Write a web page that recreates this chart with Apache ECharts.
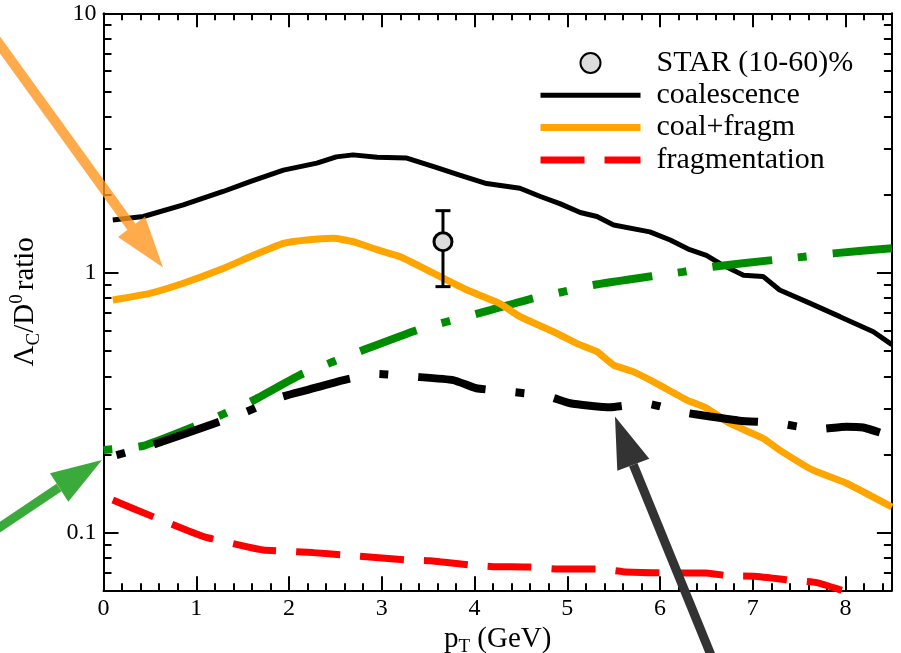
<!DOCTYPE html>
<html>
<head>
<meta charset="utf-8">
<script src="https://cdn.jsdelivr.net/npm/echarts@6/dist/echarts.min.js"></script>
<style>
  html, body { margin: 0; padding: 0; background: #ffffff; }
  #chart { width: 901px; height: 653px; }
</style>
</head>
<body>
<div id="chart"></div>
<script>
// Lambda_c / D0 ratio versus pT: model curves (log scale) and the STAR point

const xTicksMajor = [0, 1, 2, 3, 4, 5, 6, 7, 8];
const yMinorTicks = [0.06, 0.07, 0.08, 0.09, 0.2, 0.3, 0.4, 0.5, 0.6, 0.7, 0.8, 0.9,
                     2, 3, 4, 5, 6, 7, 8, 9];

// coalescence (solid black)
const coalPt  = [0.1, 0.43, 0.86, 1.29, 1.58, 1.94, 2.3, 2.51, 2.69, 2.95, 3.27, 3.56, 3.84, 4.13,
                 4.49, 4.71, 4.92, 5.14, 5.32, 5.5, 5.89, 6.11, 6.32, 6.5, 6.68, 6.9, 7.11, 7.29,
                 7.62, 7.94, 8.3, 8.5];
const coalVal = [1.6, 1.65, 1.83, 2.06, 2.25, 2.49, 2.65, 2.8, 2.85, 2.79, 2.77, 2.57, 2.38, 2.21,
                 2.12, 1.97, 1.85, 1.71, 1.65, 1.53, 1.44, 1.34, 1.23, 1.17, 1.07, 0.98, 0.97, 0.86,
                 0.764, 0.679, 0.594, 0.53];

// coalescence + fragmentation (orange)
const cfPt  = [0.1, 0.5, 0.86, 1.29, 1.58, 1.94, 2.19, 2.48, 2.69, 2.95, 3.2, 3.56, 3.92, 4.27,
               4.49, 4.89, 5.1, 5.32, 5.5, 5.71, 5.96, 6.29, 6.5, 6.75, 7.11, 7.29, 7.65, 8.01, 8.5];
const cfVal = [0.787, 0.835, 0.913, 1.04, 1.155, 1.3, 1.34, 1.36, 1.32, 1.23, 1.155, 0.997, 0.86, 0.764,
               0.679, 0.585, 0.536, 0.498, 0.442, 0.417, 0.376, 0.324, 0.302, 0.264, 0.231, 0.208,
               0.174, 0.155, 0.1256];

// fragmentation only (red dashed)
const fragPt  = [0.1, 0.54, 1.08, 1.54, 1.72, 2.26, 2.59, 2.8, 3.27, 3.52, 3.95, 4.2, 4.6, 4.9,
                 5.35, 5.6, 6.07, 6.5, 6.75, 7.01, 7.45, 7.69, 7.96];
const fragVal = [0.1336, 0.115, 0.0965, 0.0884, 0.0858, 0.0838, 0.0821, 0.081, 0.0785, 0.078, 0.0751,
                 0.074, 0.0737, 0.0724, 0.0724, 0.0708, 0.07, 0.07, 0.0681, 0.068, 0.0654, 0.0642, 0.06];

// green dash-dot curve
const greenPt  = [0, 0.43, 0.97, 1.29, 1.62, 2.12, 2.48, 2.8, 3.38, 3.7, 4.17, 4.63, 4.96, 5.28,
                  5.93, 6.25, 6.57, 7.22, 7.55, 7.87, 8.5];
const greenVal = [0.208, 0.216, 0.256, 0.286, 0.324, 0.405, 0.456, 0.505, 0.603, 0.649, 0.72, 0.799,
                  0.847, 0.899, 0.974, 1.01, 1.057, 1.122, 1.155, 1.19, 1.245];

// black dash-dot curve
const ddPt  = [0.14, 0.5, 1.18, 1.54, 1.9, 2.19, 2.59, 2.95, 3.34, 3.77, 4.02, 4.38, 4.78, 5.03,
               5.46, 5.84, 6.22, 6.54, 6.86, 7.28, 7.69, 8.01, 8.19, 8.37];
const ddVal = [0.199, 0.216, 0.262, 0.292, 0.332, 0.354, 0.387, 0.409, 0.399, 0.387, 0.36, 0.349,
               0.336, 0.315, 0.304, 0.315, 0.292, 0.28, 0.27, 0.264, 0.25, 0.256, 0.254, 0.243];

// STAR (10-60)% measurement: pT, value, lower, upper
const starPt = [3.66];
const starVal = [1.32];
const starLow = [0.886];
const starHigh = [1.738];

const FONT = '"Liberation Serif", "Times New Roman", serif';

function pairs(xs, ys) { return xs.map((x, i) => [x, ys[i]]); }

const chart = echarts.init(document.getElementById('chart'), null, { renderer: 'canvas' });

const frameLine = { show: true, onZero: false, lineStyle: { color: '#000', width: 2 } };
const noLine = { show: false, onZero: false };

function xAxisPair(pos, withLabel) {
  return [
    {
      type: 'value', position: pos, min: 0, max: 8.5, interval: 1,
      axisLine: frameLine,
      axisTick: { show: true, inside: true, length: 14, lineStyle: { color: '#000', width: 2 } },
      axisLabel: withLabel ? {
        show: true, color: '#000', fontFamily: FONT, fontSize: 24, margin: 6,
        showMaxLabel: false,
        formatter: v => (xTicksMajor.indexOf(v) >= 0 ? String(v) : '')
      } : { show: false },
      splitLine: { show: false },
      name: withLabel ? '{a|p}{s|T}{a| (GeV)}' : '',
      nameLocation: 'middle', nameGap: 20,
      nameTextStyle: {
        rich: {
          a: { fontFamily: FONT, fontSize: 29, color: '#000', lineHeight: 34 },
          s: { fontFamily: FONT, fontSize: 19, color: '#000', lineHeight: 19, verticalAlign: 'bottom' }
        }
      }
    },
    {
      type: 'value', position: pos, min: 0, max: 8.5, interval: 0.2,
      axisLine: noLine,
      axisTick: { show: true, inside: true, length: 7, lineStyle: { color: '#000', width: 2 } },
      axisLabel: { show: false },
      splitLine: { show: false }
    }
  ];
}

function yAxisPair(pos, withLabel) {
  return [
    {
      type: 'log', logBase: 10, position: pos, min: 0.06, max: 10,
      axisLine: frameLine,
      axisTick: { show: true, inside: true, length: 15, lineStyle: { color: '#000', width: 2 } },
      axisLabel: withLabel ? {
        show: true, color: '#000', fontFamily: FONT, fontSize: 24, margin: 7,
        showMinLabel: false,
        formatter: v => String(+v.toPrecision(3))
      } : { show: false },
      splitLine: { show: false },
      name: withLabel ? '{a|Λ}{s|C}{a|/D}{p|0}{a|ratio}' : '',
      nameLocation: 'middle', nameGap: 60,
      nameTextStyle: {
        rich: {
          a: { fontFamily: FONT, fontSize: 29, color: '#000', lineHeight: 36 },
          s: { fontFamily: FONT, fontSize: 19, color: '#000', lineHeight: 19, verticalAlign: 'bottom' },
          p: { fontFamily: FONT, fontSize: 19, color: '#000', lineHeight: 19, verticalAlign: 'top',
               padding: [0, 4, 0, 0] }
        }
      }
    },
    {
      type: 'log', logBase: 10, position: pos, min: 0.06, max: 10,
      axisLine: noLine,
      axisTick: { show: true, inside: true, length: 8, customValues: yMinorTicks,
                  lineStyle: { color: '#000', width: 2 } },
      axisLabel: { show: false },
      splitLine: { show: false }
    }
  ];
}

// arrow = shaft polyline + triangular head
function arrow(shaft, head, color, width) {
  return [
    { type: 'polyline', z: 100, shape: { points: shaft },
      style: { stroke: color, lineWidth: width, fill: null, lineCap: 'butt' } },
    { type: 'polygon', z: 100, shape: { points: head },
      style: { fill: color, stroke: null } }
  ];
}

const hidden = { opacity: 0 };

const option = {
  backgroundColor: '#ffffff',
  animation: false,
  grid: { left: 103.5, top: 13.3, width: 788.4, height: 577, containLabel: false,
          outerBoundsMode: 'none' },
  xAxis: [].concat(xAxisPair('bottom', true), xAxisPair('top', false)),
  yAxis: [].concat(yAxisPair('left', true), yAxisPair('right', false)),
  legend: {
    orient: 'vertical', left: 532, top: 43,
    itemWidth: 100, itemHeight: 20, itemGap: 2.3,
    textStyle: { fontFamily: FONT, fontSize: 30, color: '#000', padding: [0, 0, 0, 11] },
    data: [
      { name: 'STAR (10-60)%' },
      { name: 'coalescence', itemStyle: hidden, lineStyle: { width: 5 } },
      { name: 'coal+fragm', itemStyle: hidden, lineStyle: { width: 7 } },
      { name: 'fragmentation', itemStyle: hidden, lineStyle: { width: 7 } }
    ]
  },
  series: [
    {
      name: 'coalescence', type: 'line', data: pairs(coalPt, coalVal),
      showSymbol: false, symbol: 'none', z: 2,
      lineStyle: { color: '#000', width: 5 }, itemStyle: { color: '#000' }
    },
    {
      name: 'green dash-dot', type: 'line', data: pairs(greenPt, greenVal),
      showSymbol: false, symbol: 'none', smooth: 0.15, z: 3,
      lineStyle: { color: '#008c00', width: 8, type: [60, 26, 9, 26], dashOffset: 86, cap: 'butt' },
      itemStyle: { color: '#008c00' }
    },
    {
      name: 'coal+fragm', type: 'line', data: pairs(cfPt, cfVal),
      showSymbol: false, symbol: 'none', smooth: 0.15, z: 4,
      lineStyle: { color: '#ffa500', width: 7 }, itemStyle: { color: '#ffa500' }
    },
    {
      name: 'fragmentation', type: 'line', data: pairs(fragPt, fragVal),
      showSymbol: false, symbol: 'none', smooth: 0.15, z: 4,
      lineStyle: { color: '#ff0000', width: 7, type: [44, 20], cap: 'butt' },
      itemStyle: { color: '#ff0000' }
    },
    {
      name: 'black dash-dot', type: 'line', data: pairs(ddPt, ddVal),
      showSymbol: false, symbol: 'none', smooth: 0.15, z: 5,
      lineStyle: { color: '#000', width: 8, type: [69, 30, 9, 30], dashOffset: 99, cap: 'butt' },
      itemStyle: { color: '#000' }
    },
    {
      name: 'STAR error', type: 'custom', z: 6,
      data: starPt.map((x, i) => [x, starVal[i], starLow[i], starHigh[i]]),
      encode: { x: 0, y: [1, 2, 3] },
      renderItem: function (params, api) {
        const x = api.value(0);
        const top = api.coord([x, api.value(3)]);
        const bot = api.coord([x, api.value(2)]);
        const half = 7.5;
        const st = { stroke: '#000', lineWidth: 3 };
        return {
          type: 'group',
          children: [
            { type: 'line', shape: { x1: top[0], y1: top[1], x2: bot[0], y2: bot[1] }, style: st },
            { type: 'line', shape: { x1: top[0] - half, y1: top[1], x2: top[0] + half, y2: top[1] }, style: st },
            { type: 'line', shape: { x1: bot[0] - half, y1: bot[1], x2: bot[0] + half, y2: bot[1] }, style: st }
          ]
        };
      }
    },
    {
      name: 'STAR (10-60)%', type: 'scatter', z: 7,
      data: pairs(starPt, starVal),
      symbol: 'circle', symbolSize: 18,
      itemStyle: { color: '#dcdcdc', borderColor: '#000', borderWidth: 3, opacity: 1 }
    }
  ],
  graphic: [].concat(
    arrow([[-5, 38], [131.5, 227]], [[118, 237], [163, 267.5], [145, 216.5]], 'rgba(255,150,30,0.8)', 10),
    arrow([[-5, 530.5], [59, 487.5]], [[50, 473.3], [102, 460], [68.3, 501.7]], '#3aaa3a', 9),
    arrow([[715, 665], [633.3, 464.7]], [[617.3, 470.7], [615, 416.5], [649.3, 458.7]], '#333333', 9)
  )
};

chart.setOption(option);
</script>
</body>
</html>
